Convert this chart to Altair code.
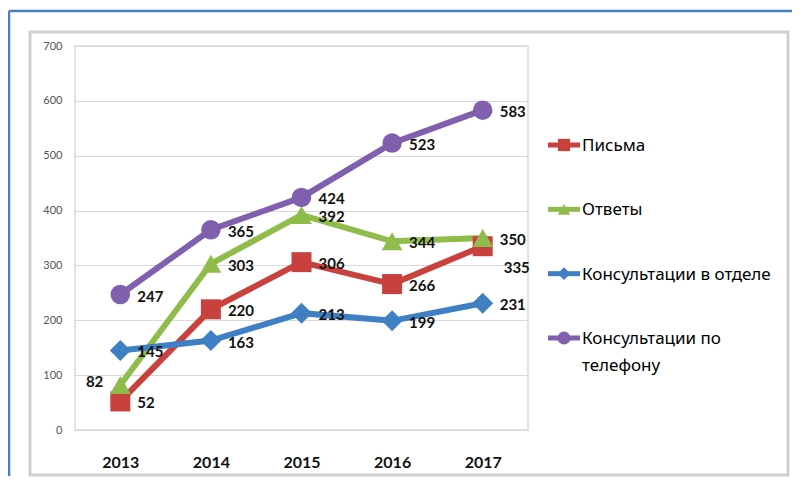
import altair as alt
import pandas as pd

years = ["2013", "2014", "2015", "2016", "2017"]
series_names = ["Письма", "Ответы", "Консультации в отделе", "Консультации по телефону"]
pisma = [52, 220, 306, 266, 335]
otvety = [82, 303, 392, 344, 350]
kons_otdel = [145, 163, 213, 199, 231]
kons_tel = [247, 365, 424, 523, 583]
y_ticks = [0, 100, 200, 300, 400, 500, 600, 700]

colors = ["#c9413d", "#8fbc4a", "#3f7fc4", "#7f5fae"]
shapes = ["square", "triangle-up", "diamond", "circle"]
sizes = [400, 430, 440, 380]
legend_sizes = [150, 170, 180, 160]

rows = []
for name, vals in zip(series_names, [pisma, otvety, kons_otdel, kons_tel]):
    for yr, v in zip(years, vals):
        rows.append({"year": yr, "series": name, "value": v})
df = pd.DataFrame(rows)
df_leg = pd.DataFrame({"series": series_names})

NUM_FONT = "Lato"
TXT_FONT = "Noto Sans"

x_enc = alt.X(
    "year:O", sort=years, title=None,
    axis=alt.Axis(labelAngle=0, labelFont=NUM_FONT, labelFontSize=16, labelFontWeight="bold",
                  labelColor="#111111", labelPadding=24, ticks=False, domain=False, grid=False),
)
y_enc = alt.Y(
    "value:Q", title=None,
    scale=alt.Scale(domain=[0, 700], nice=False),
    axis=alt.Axis(values=y_ticks, labelFont=NUM_FONT, labelFontSize=11, labelColor="#555555",
                  labelPadding=13, ticks=False, domain=False, grid=True, gridColor="#d9d9d9"),
)

one = alt.Data(values=[{"k": 1}])

frame_box = alt.Chart(one).mark_rect(fillOpacity=0, stroke="#cfcfcf", strokeWidth=3).encode(
    x=alt.value(-45), x2=alt.value(713), y=alt.value(-14), y2=alt.value(429)
)
blue_top = alt.Chart(one).mark_rule(color="#4a7ebf", strokeWidth=2.5).encode(
    x=alt.value(-66), x2=alt.value(720), y=alt.value(-35)
)
blue_left = alt.Chart(one).mark_rule(color="#4a7ebf", strokeWidth=2.5).encode(
    x=alt.value(-66), y=alt.value(-35), y2=alt.value(430)
)

lines = alt.Chart(df).mark_line(strokeWidth=6).encode(
    x=x_enc, y=y_enc,
    stroke=alt.Stroke("series:N", scale=alt.Scale(domain=series_names, range=colors), legend=None),
    order=alt.Order("year:O"),
)

point_layers = []
for name, col, shp, sz in zip(series_names, colors, shapes, sizes):
    point_layers.append(
        alt.Chart(df).transform_filter(alt.datum.series == name)
        .mark_point(filled=True, shape=shp, size=sz, color=col, opacity=1)
        .encode(x=x_enc, y=y_enc)
    )

is_left = "datum.series == 'Ответы' && datum.year == '2013'"
is_below = "datum.series == 'Письма' && datum.year == '2017'"

labels_main = alt.Chart(df).transform_filter(f"!({is_left}) && !({is_below})").mark_text(
    font=NUM_FONT, fontSize=15, fontWeight="bold", color="#111111", align="left", baseline="middle", dx=17, dy=2
).encode(x=x_enc, y=y_enc, text="value:Q")

labels_left = alt.Chart(df).transform_filter(is_left).mark_text(
    font=NUM_FONT, fontSize=15, fontWeight="bold", color="#111111", align="right", baseline="middle", dx=-17, dy=-3
).encode(x=x_enc, y=y_enc, text="value:Q")

labels_below = alt.Chart(df).transform_filter(is_below).mark_text(
    font=NUM_FONT, fontSize=15, fontWeight="bold", color="#111111", align="left", baseline="middle", dx=21, dy=22
).encode(x=x_enc, y=y_enc, text="value:Q")

data_group = alt.layer(
    frame_box, blue_top, blue_left, lines, *point_layers, labels_main, labels_left, labels_below
)

# legend built from the series list
leg_y = alt.Y("series:N", sort=series_names, axis=None,
              scale=alt.Scale(type="point", domain=series_names, range=[99, 292], padding=0))
leg_color = alt.Color("series:N", scale=alt.Scale(domain=series_names, range=colors), legend=None)

leg_lines = alt.Chart(df_leg).mark_rule(strokeWidth=5).encode(
    x=alt.value(473), x2=alt.value(505), y=leg_y, color=leg_color
)
leg_points = alt.Chart(df_leg).mark_point(filled=True, opacity=1).encode(
    x=alt.value(489), y=leg_y, color=leg_color,
    shape=alt.Shape("series:N", scale=alt.Scale(domain=series_names, range=shapes), legend=None),
    size=alt.Size("series:N", scale=alt.Scale(domain=series_names, range=legend_sizes), legend=None),
)
last = series_names[-1]
leg_text = alt.Chart(df_leg).transform_filter(alt.datum.series != last).mark_text(
    font=TXT_FONT, fontSize=17, color="#000000", align="left", baseline="middle", dy=1
).encode(x=alt.value(507), y=leg_y, text="series:N")
leg_text2 = alt.Chart(df_leg).transform_filter(alt.datum.series == last).transform_calculate(
    lbl="replace(datum.series, ' по ', ' по\\n')"
).mark_text(
    font=TXT_FONT, fontSize=17, color="#000000", align="left", baseline="middle",
    lineBreak="\n", lineHeight=27, dy=1
).encode(x=alt.value(507), y=leg_y, text="lbl:N")

legend_group = alt.layer(leg_lines, leg_points, leg_text, leg_text2)

chart = alt.layer(data_group, legend_group).resolve_scale(y="independent").properties(
    width=453, height=384, autosize="none",
    padding={"left": 67, "top": 38, "right": 264, "bottom": 48},
    background="#ffffff",
).configure_view(stroke="#d9d9d9", strokeWidth=1.5)

chart.save("out.html", embed_options={"renderer": "svg", "actions": False})
